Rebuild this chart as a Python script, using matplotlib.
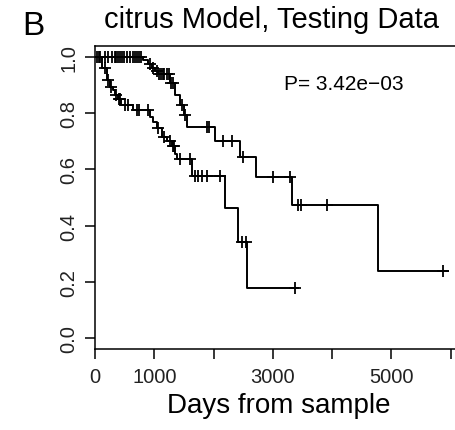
import numpy as np
import matplotlib
matplotlib.use("Agg")
import matplotlib.pyplot as plt

plt.rcParams['font.family'] = ['Liberation Sans', 'DejaVu Sans']

# Kaplan-Meier steps (days, survival after the step)
hi_times = [0, 810, 894, 961, 1012, 1062, 1265, 1349, 1433, 1500, 1551,
            2023, 2445, 2714, 3321, 4771]
hi_surv = [1.0, 0.99, 0.975, 0.963, 0.952, 0.94, 0.908, 0.866, 0.83, 0.795,
           0.753, 0.70, 0.643, 0.572, 0.474, 0.237]
hi_end = 5955
hi_cens = [34, 67, 84, 169, 219, 287, 337, 354, 388, 421, 455, 489, 540, 590,
           641, 674, 708, 742, 776, 920, 980, 1040, 1080, 1110, 1140, 1170,
           1215, 1245, 1290, 1320, 1460, 1520, 1888, 1922, 2158, 2310, 2495,
           3001, 3288, 3423, 3473, 3912, 5870]

lo_times = [0, 118, 202, 253, 303, 337, 388, 438, 641, 927, 978, 1045, 1130,
            1214, 1298, 1349, 1383, 1636, 2192, 2411, 2563]
lo_surv = [1.0, 0.96, 0.92, 0.894, 0.883, 0.866, 0.85, 0.83, 0.813, 0.788,
           0.77, 0.749, 0.717, 0.70, 0.682, 0.654, 0.636, 0.576, 0.463, 0.343,
           0.177]
lo_end = 3424
lo_cens = [169, 219, 270, 354, 405, 421, 506, 556, 708, 742, 894, 1062, 1163,
           1265, 1315, 1332, 1433, 1602, 1686, 1737, 1804, 1888, 2108, 2478,
           2546, 3372]

x_ticks = [0, 1000, 2000, 3000, 4000, 5000, 6000]
x_labels = ["0", "1000", "", "3000", "", "5000", ""]
y_ticks = [0.0, 0.2, 0.4, 0.6, 0.8, 1.0]
y_labels = ["0.0", "0.2", "0.4", "0.6", "0.8", "1.0"]
p_text = "P= 3.42e\u221203"


def km_curve(ax, times, surv, end, cens):
    t = np.append(times, end)
    s = np.append(surv, surv[-1])
    ax.step(t, s, where="post", color="black", lw=1.4)
    idx = np.searchsorted(times, cens, side="right") - 1
    ax.plot(cens, np.array(surv)[idx], ls="none", marker="+", ms=9,
            mew=1.3, color="black")


fig = plt.figure(figsize=(4.56, 4.31), dpi=100)
ax = fig.add_axes([95 / 456, 81 / 431, 367 / 456, 303 / 431])

km_curve(ax, hi_times, hi_surv, hi_end, hi_cens)
km_curve(ax, lo_times, lo_surv, lo_end, lo_cens)

ax.set_xlim(0, 6190)
ax.set_ylim(-0.04, 1.04)
ax.set_xticks(x_ticks)
ax.set_xticklabels(x_labels, fontsize=14.5, color="#222222")
ax.set_yticks(y_ticks)
ax.set_yticklabels(y_labels, fontsize=14.5, rotation=90, va="center",
                   color="#222222")
ax.tick_params(direction="out", length=7, width=1.1, pad=6)
ax.tick_params(axis="y", pad=5)
for sp in ax.spines.values():
    sp.set_linewidth(1.1)

ax.set_xlabel("Days from sample", fontsize=20, labelpad=4)
ax.text(4200, 0.908, p_text, fontsize=15, ha="center", va="center")

fig.text(271 / 456, 1 - 28 / 431, "citrus Model, Testing Data", fontsize=21,
         ha="center", va="baseline")
fig.text(33 / 456, 1 - 35 / 431, "B", fontsize=24, ha="center",
         va="baseline")

fig.savefig("out.png", dpi=100)
